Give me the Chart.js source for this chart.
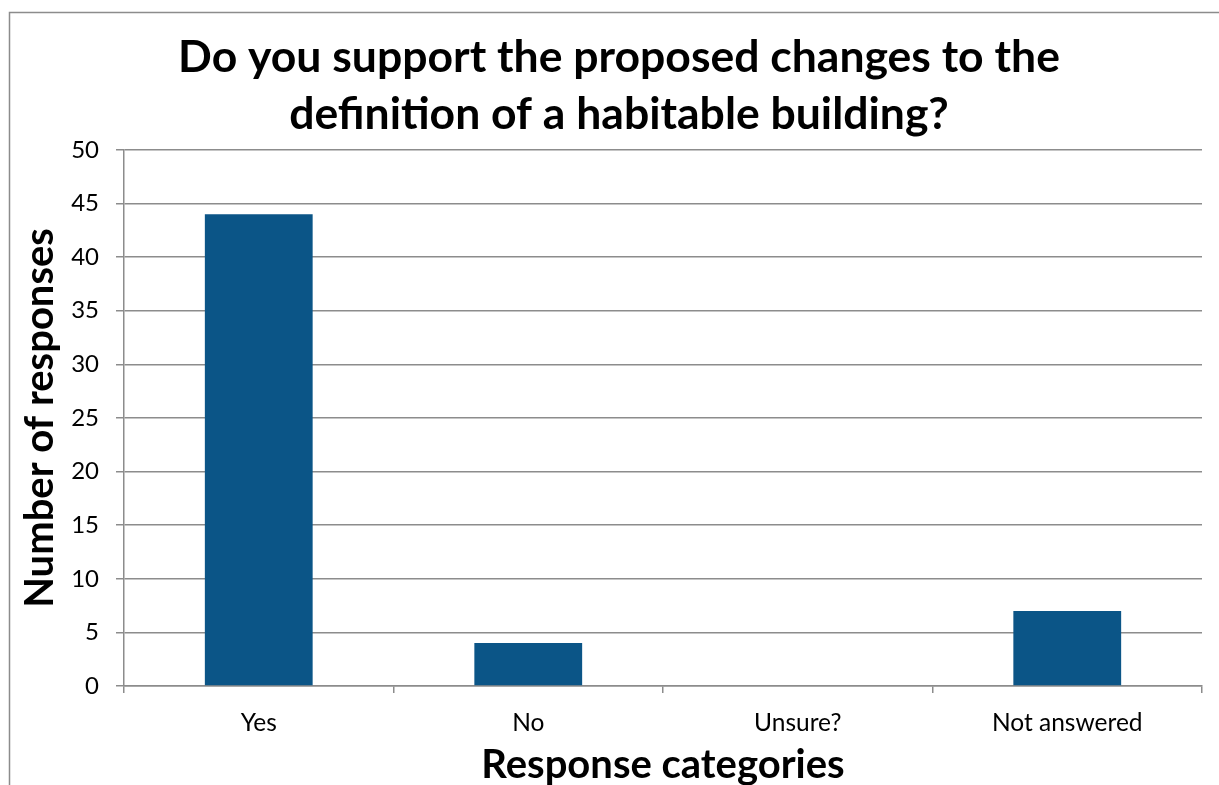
<!DOCTYPE html>
<html>
<head>
<meta charset="utf-8">
<script src="https://cdn.jsdelivr.net/npm/chart.js@4"></script>
<style>
  html, body { margin: 0; padding: 0; background: #ffffff; }
  #wrap { width: 1219px; height: 785px; }
</style>
</head>
<body>
<div id="wrap"><canvas id="chart" width="1219" height="785"></canvas></div>
<script>
// values
const categories = ["Yes", "No", "Unsure?", "Not answered"];
const responses = [44, 4, 0, 7];
const yTicks = [0, 5, 10, 15, 20, 25, 30, 35, 40, 45, 50];

const gridGrey = "#8c8c8c";
const barBlue = "#0b5587";

// outer frame of the chart object (its right and bottom edges are cut off)
const framePlugin = {
  id: "frame",
  beforeDraw(chart) {
    const ctx = chart.ctx;
    ctx.save();
    ctx.strokeStyle = gridGrey;
    ctx.lineWidth = 1.5;
    ctx.strokeRect(9.5, 12.5, 1400, 1000);
    ctx.restore();
  },
};

Chart.defaults.font.family = "Lato, 'Open Sans', sans-serif";
Chart.defaults.color = "#000000";

new Chart(document.querySelector("#chart"), {
  type: "bar",
  data: {
    labels: categories,
    datasets: [
      {
        label: "Number of responses",
        data: responses,
        backgroundColor: barBlue,
        barPercentage: 0.4,
        categoryPercentage: 1,
      },
    ],
  },
  options: {
    responsive: false,
    animation: false,
    // uneven left/right padding so the title centres on the frame
    layout: { padding: { left: 36, right: 17, top: 0, bottom: 0 } },
    plugins: {
      legend: { display: false },
      tooltip: { enabled: false },
      title: {
        display: true,
        text: [
          "Do you support the proposed changes to the",
          "definition of a habitable building?",
        ],
        color: "#000000",
        font: { size: 44.5, weight: "bold", lineHeight: 1.28 },
        padding: { top: 29.5, bottom: 6.5 },
      },
    },
    scales: {
      x: {
        grid: {
          display: true,
          drawOnChartArea: false,
          drawTicks: true,
          tickLength: 7,
          color: gridGrey,
          lineWidth: 1.5,
        },
        border: { display: true, color: gridGrey, width: 1.5 },
        ticks: { font: { size: 24.5 }, padding: 15, color: "#000000" },
        title: {
          display: true,
          text: "Response categories",
          font: { size: 40, weight: "bold", lineHeight: 1 },
          padding: { top: 0, bottom: 0 },
          color: "#000000",
        },
        afterFit(scale) {
          scale.height = 99;
        },
      },
      y: {
        min: 0,
        max: 50,
        afterBuildTicks(scale) {
          scale.ticks = yTicks.map((v) => ({ value: v }));
        },
        grid: {
          color: gridGrey,
          lineWidth: 1.5,
          drawTicks: true,
          tickLength: 8,
        },
        border: { display: true, color: gridGrey, width: 1.5 },
        ticks: { font: { size: 24 }, padding: 17, color: "#000000" },
        title: {
          display: true,
          text: "Number of responses",
          font: { size: 40, weight: "bold", lineHeight: 0.2 },
          padding: { top: 0, bottom: 0 },
          color: "#000000",
        },
        afterFit(scale) {
          scale.width = 88;
        },
      },
    },
  },
  plugins: [framePlugin],
});
</script>
</body>
</html>
